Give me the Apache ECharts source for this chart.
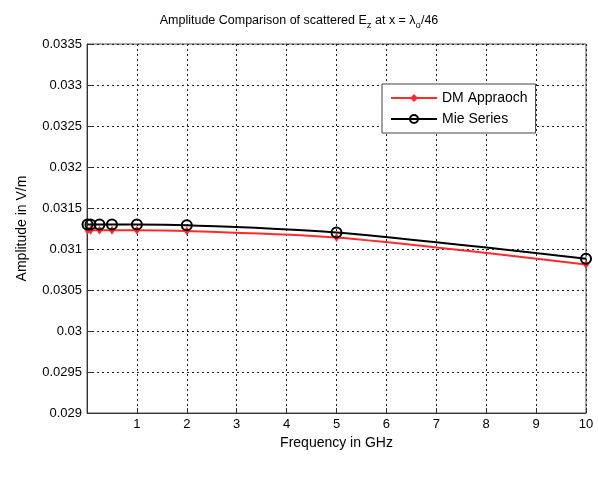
<!DOCTYPE html>
<html>
<head>
<meta charset="utf-8">
<script src="https://cdn.jsdelivr.net/npm/echarts@6/dist/echarts.min.js"></script>
<style>
  html, body { margin: 0; padding: 0; background: #fff; }
  #chart { width: 598px; height: 477px; }
</style>
</head>
<body>
<div id="chart"></div>
<script>
// frequencies in GHz
const freq = [0.01, 0.07, 0.25, 0.5, 1, 2, 5, 10];
// amplitude in V/m
const dmApproach = [0.03123, 0.03123, 0.03123, 0.03123, 0.03123, 0.03122, 0.03114, 0.03081];
const mieSeries = [0.03130, 0.03130, 0.03130, 0.03130, 0.03130, 0.03129, 0.03120, 0.03088];
const yTicks = [0.029, 0.0295, 0.03, 0.0305, 0.031, 0.0315, 0.032, 0.0325, 0.033, 0.0335];

const font = 'Liberation Sans, Arial, sans-serif';
const pairs = (xs, ys) => xs.map((x, i) => [x, ys[i]]);

const chart = echarts.init(document.getElementById('chart'));
chart.setOption({
  animation: false,
  backgroundColor: '#fff',
  textStyle: { fontFamily: font },
  title: {
    text: '{t|Amplitude Comparison of scattered E}{s|z}{t| at x = λ}{s|o}{t|/46}',
    left: 'center',
    top: 6,
    textStyle: {
      rich: {
        t: { fontSize: 12.5, color: '#000', fontFamily: font, fontWeight: 'normal' },
        s: { fontSize: 9.5, color: '#000', fontFamily: font, fontWeight: 'normal', padding: [9, 0, 0, 0] }
      }
    }
  },
  legend: {
    orient: 'vertical',
    left: 382,
    top: 84,
    backgroundColor: '#fff',
    borderColor: '#444',
    borderWidth: 1,
    padding: [7, 8, 7, 8],
    itemWidth: 46,
    itemHeight: 10,
    itemGap: 7,
    textStyle: { fontSize: 14, color: '#000', fontFamily: font },
    data: ['DM Appraoch', 'Mie Series']
  },
  grid: {
    left: 87,
    right: 12,
    top: 44,
    bottom: 64,
    show: true,
    borderColor: '#555',
    borderWidth: 1
  },
  xAxis: {
    type: 'value',
    min: 0,
    max: 10,
    interval: 1,
    name: 'Frequency in GHz',
    nameLocation: 'middle',
    nameGap: 22,
    nameTextStyle: { fontSize: 14, color: '#000' },
    axisLine: { lineStyle: { color: '#333' } },
    axisTick: { inside: true, length: 5, lineStyle: { color: '#333' } },
    axisLabel: {
      color: '#000', fontSize: 13, margin: 5,
      formatter: v => (v === 0 ? '' : String(v))
    },
    splitLine: { show: true, lineStyle: { color: '#222', type: [2, 3], width: 1 } }
  },
  yAxis: {
    type: 'value',
    min: yTicks[0],
    max: yTicks[yTicks.length - 1],
    interval: 0.0005,
    name: 'Amplitude in V/m',
    nameLocation: 'middle',
    nameGap: 58,
    nameTextStyle: { fontSize: 14, color: '#000' },
    axisLine: { show: true, lineStyle: { color: '#333' } },
    axisTick: { show: true, inside: true, length: 5, lineStyle: { color: '#333' } },
    axisLabel: {
      color: '#000', fontSize: 13, margin: 5,
      formatter: v => String(parseFloat(v.toFixed(4)))
    },
    splitLine: { show: true, lineStyle: { color: '#222', type: [2, 3], width: 1 } }
  },
  series: [
    {
      name: 'DM Appraoch',
      type: 'line',
      data: pairs(freq, dmApproach),
      smooth: 0.3,
      symbol: 'diamond',
      symbolSize: [6, 9],
      color: '#ff2a2a',
      lineStyle: { color: '#ff2a2a', width: 2 },
      itemStyle: { color: '#ff2a2a' },
      z: 2
    },
    {
      name: 'Mie Series',
      type: 'line',
      data: pairs(freq, mieSeries),
      smooth: 0.3,
      symbol: 'circle',
      symbolSize: 10,
      color: '#000',
      lineStyle: { color: '#000', width: 2 },
      itemStyle: { color: 'transparent', borderColor: '#000', borderWidth: 2 },
      z: 3
    }
  ]
});
</script>
</body>
</html>
